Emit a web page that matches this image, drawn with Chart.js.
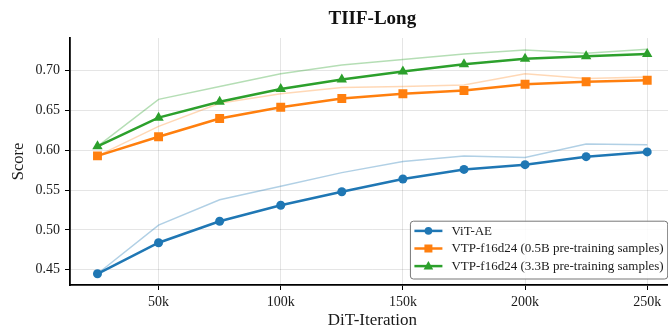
<!DOCTYPE html>
<html>
<head>
<meta charset="utf-8">
<script src="https://cdn.jsdelivr.net/npm/chart.js@4.4.1/dist/chart.umd.min.js"></script>
<style>
  html, body { margin: 0; padding: 0; background: #fff; overflow: hidden; }
  canvas { display: block; }
</style>
</head>
<body>
<canvas id="myChart" width="681" height="329"></canvas>
<script>
const ctx = document.getElementById("myChart");

// DiT iterations (in k)
var iterations = [25, 50, 75, 100, 125, 150, 175, 200, 225, 250];
var xTicks = [50, 100, 150, 200, 250];
var yTicks = [0.45, 0.5, 0.55, 0.6, 0.65, 0.7];

// smoothed curves (thick, with markers)
var vitAE = [0.445, 0.484, 0.511, 0.531, 0.548, 0.564, 0.576, 0.582, 0.592, 0.598];
var vtp05 = [0.593, 0.617, 0.640, 0.654, 0.665, 0.671, 0.675, 0.683, 0.686, 0.688];
var vtp33 = [0.605, 0.641, 0.661, 0.677, 0.689, 0.699, 0.708, 0.715, 0.718, 0.721];

// raw curves (thin, faded)
var vitAERaw = [0.445, 0.506, 0.538, 0.555, 0.572, 0.586, 0.593, 0.591, 0.608, 0.607];
var vtp05Raw = [0.593, 0.630, 0.659, 0.671, 0.679, 0.680, 0.682, 0.696, 0.690, 0.692];
var vtp33Raw = [0.605, 0.664, 0.680, 0.696, 0.707, 0.714, 0.721, 0.726, 0.722, 0.727];

var seriesLabels = [
  "ViT-AE",
  "VTP-f16d24 (0.5B pre-training samples)",
  "VTP-f16d24 (3.3B pre-training samples)",
];
var seriesColors = ["#1f77b4", "#ff7f0e", "#2ca02c"];
var fadedColors = ["rgba(31,119,180,0.35)", "rgba(255,127,14,0.3)", "rgba(44,160,44,0.35)"];
var markers = ["circle", "rect", "triangle"];
var markerSizes = [4.5, 6.3, 6];

const serif = "'Liberation Serif', 'DejaVu Serif', serif";
Chart.defaults.font.family = serif;
Chart.defaults.color = "#1a1a1a";

function pts(arr) {
  return arr.map((v, i) => ({ x: iterations[i], y: v }));
}

var mains = [vitAE, vtp05, vtp33];
var raws = [vitAERaw, vtp05Raw, vtp33Raw];
var datasets = [];
mains.forEach((arr, i) => {
  datasets.push({
    label: seriesLabels[i],
    data: pts(arr),
    borderColor: seriesColors[i],
    backgroundColor: seriesColors[i],
    borderWidth: 2.5,
    pointStyle: markers[i],
    pointRadius: markerSizes[i],
    pointBorderWidth: 0,
    inLegend: true,
    order: 0,
  });
});
raws.forEach((arr, i) => {
  datasets.push({
    label: seriesLabels[i] + " (raw)",
    data: pts(arr),
    borderColor: fadedColors[i],
    borderWidth: 1.5,
    pointRadius: 0,
    order: 1,
  });
});

// legend drawn inside the plot, lower right
const legendBox = {
  id: "legendBox",
  afterDatasetsDraw(chart) {
    const c = chart.ctx;
    const area = chart.chartArea;
    const items = chart.data.datasets.filter((d) => d.inLegend);
    c.save();
    c.font = "13px " + serif;
    const textW = Math.max(...items.map((d) => c.measureText(d.label).width));
    const rowH = 17.6;
    const w = 4 + 28 + 9 + textW + 4;
    const h = rowH * items.length + 5;
    const x = area.right - 7 - w;
    const y = area.bottom - 6 - h;
    c.beginPath();
    if (c.roundRect) c.roundRect(x, y, w, h, 3);
    else c.rect(x, y, w, h);
    c.fillStyle = "rgba(255,255,255,0.85)";
    c.fill();
    c.lineWidth = 1;
    c.strokeStyle = "#777";
    c.stroke();
    items.forEach((d, i) => {
      const cy = y + 9.7 + i * rowH;
      const lx = x + 4;
      c.beginPath();
      c.moveTo(lx, cy);
      c.lineTo(lx + 28, cy);
      c.strokeStyle = d.borderColor;
      c.lineWidth = 2.5;
      c.stroke();
      const mx = lx + 14;
      c.fillStyle = d.borderColor;
      c.beginPath();
      if (d.pointStyle === "circle") {
        c.arc(mx, cy, 3.8, 0, Math.PI * 2);
      } else if (d.pointStyle === "rect") {
        c.rect(mx - 4, cy - 4, 8, 8);
      } else {
        c.moveTo(mx, cy - 5);
        c.lineTo(mx + 4.8, cy + 3.5);
        c.lineTo(mx - 4.8, cy + 3.5);
        c.closePath();
      }
      c.fill();
      c.fillStyle = "#1a1a1a";
      c.textBaseline = "middle";
      c.textAlign = "left";
      c.fillText(d.label, lx + 28 + 9, cy + 0.5);
    });
    c.restore();
  },
};

new Chart(ctx, {
  type: "line",
  data: { datasets: datasets },
  options: {
    responsive: false,
    animation: false,
    devicePixelRatio: 1,
    layout: { padding: { left: 0, right: 2, top: 0, bottom: 0 } },
    plugins: {
      legend: { display: false },
      tooltip: { enabled: false },
      title: {
        display: true,
        text: "TIIF-Long",
        fullSize: false,
        color: "#111",
        font: { size: 19, weight: "bold", family: serif },
        padding: { top: 8, bottom: 7.2 },
      },
    },
    scales: {
      x: {
        type: "linear",
        min: 13.75,
        max: 261.25,
        afterBuildTicks: (s) => {
          s.ticks = xTicks.map((v) => ({ value: v }));
        },
        afterFit: (s) => {
          s.height = 44;
        },
        ticks: {
          callback: (v) => v + "k",
          font: { size: 14 },
          color: "#1a1a1a",
          padding: 4,
          maxRotation: 0,
        },
        grid: {
          color: "rgba(0,0,0,0.1)",
          lineWidth: 1,
          tickColor: "#000",
          tickLength: 5,
          tickWidth: 1,
        },
        border: { color: "#000", width: 1.8 },
        title: {
          display: true,
          text: "DiT-Iteration",
          font: { size: 17, lineHeight: 1 },
          color: "#1a1a1a",
          padding: { top: 0, bottom: 0 },
        },
      },
      y: {
        min: 0.4309,
        max: 0.741,
        afterBuildTicks: (s) => {
          s.ticks = yTicks.map((v) => ({ value: v }));
        },
        afterFit: (s) => {
          s.width = 70;
        },
        ticks: {
          callback: (v) => v.toFixed(2),
          font: { size: 14 },
          color: "#1a1a1a",
          padding: 5,
        },
        grid: {
          color: "rgba(0,0,0,0.1)",
          lineWidth: 1,
          tickColor: "#000",
          tickLength: 5,
          tickWidth: 1,
        },
        border: { color: "#000", width: 1.8 },
        title: {
          display: true,
          text: "Score",
          font: { size: 16.5, lineHeight: 1 },
          color: "#1a1a1a",
          padding: { top: 10, bottom: 0 },
        },
      },
    },
  },
  plugins: [legendBox],
});
</script>
</body>
</html>
